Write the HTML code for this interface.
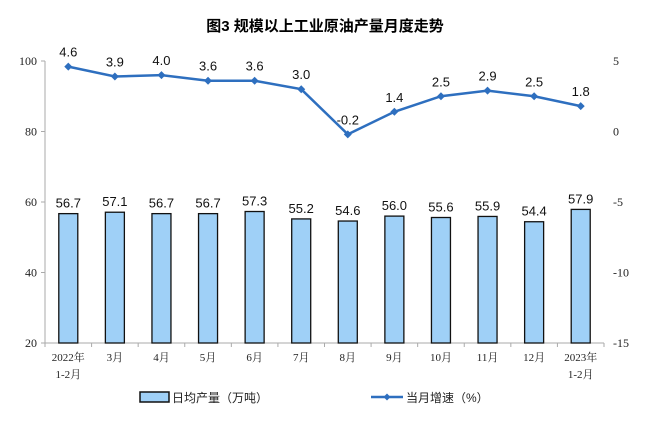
<!DOCTYPE html>
<html><head><meta charset="utf-8"><style>
body{margin:0;background:#fff;width:650px;height:433px;overflow:hidden}
svg text{font-family:"Liberation Sans","Noto Sans CJK SC",sans-serif}
.serif{font-family:"Liberation Serif","Noto Serif CJK SC",serif}
</style></head><body>
<svg id="chart" width="650" height="433" xmlns="http://www.w3.org/2000/svg">
<text x="325" y="31" text-anchor="middle" font-size="15" font-weight="bold" fill="#000">图3  规模以上工业原油产量月度走势</text>
<g id="axes"></g><g id="bars"></g><g id="line"></g>
<g>
<rect x="140" y="392" width="29" height="10" fill="#9fd0f7" stroke="#111" stroke-width="1.5"/>
<text x="172" y="402" font-size="12" fill="#222">日均产量（万吨）</text>
<line x1="371" y1="397" x2="403" y2="397" stroke="#2e6fbf" stroke-width="2.5"/>
<path d="M387 393.5L390.5 397L387 400.5L383.5 397Z" fill="#2e6fbf"/>
<text x="406" y="402" font-size="12" fill="#222">当月增速（%）</text>
</g>
</svg>
<script>
const categories=["2022年|1-2月","3月","4月","5月","6月","7月","8月","9月","10月","11月","12月","2023年|1-2月"];
const production=[56.7,57.1,56.7,56.7,57.3,55.2,54.6,56.0,55.6,55.9,54.4,57.9];
const growth=[4.6,3.9,4.0,3.6,3.6,3.0,-0.2,1.4,2.5,2.9,2.5,1.8];
const leftTicks=[20,40,60,80,100];
const rightTicks=[-15,-10,-5,0,5];
const NS="http://www.w3.org/2000/svg";
const x0=45,x1=604,yTop=61,yBot=343;
const step=(x1-x0)/categories.length;
const xC=i=>x0+step*(i+0.5);
const yL=v=>yBot-(v-20)/80*(yBot-yTop);
const yR=v=>yBot-(v+15)/20*(yBot-yTop);
function mk(tag,attrs,parent,txt){const e=document.createElementNS(NS,tag);for(const k in attrs)e.setAttribute(k,attrs[k]);if(txt!==undefined)e.textContent=txt;parent.appendChild(e);return e;}
const axes=document.getElementById('axes');
let e=mk('line',{x1:x0,y1:yTop,x2:x0,y2:yBot,stroke:'#aaa'},axes);


e=mk('line',{x1:x0,y1:yBot,x2:x1,y2:yBot,stroke:'#aaa'},axes);


leftTicks.forEach(v=>{
  mk('line',{x1:x0-4,y1:yL(v),x2:x0,y2:yL(v),stroke:'#aaa'},axes);
  const t=mk('text',{x:37,y:yL(v)+4,'text-anchor':'end','font-size':12,class:'serif',fill:'#222'},axes,v);
  
  
});
rightTicks.forEach(v=>{
  const t=mk('text',{x:613,y:yR(v)+4,'font-size':12,class:'serif',fill:'#222'},axes,v);
  
  
});
for(let i=0;i<=categories.length;i++){mk('line',{x1:x0+step*i,y1:yBot,x2:x0+step*i,y2:yBot+4,stroke:'#aaa'},axes);}
categories.forEach((c,i)=>{
  c.split('|').forEach((p,j)=>{
    const t=mk('text',{x:xC(i),y:361+j*17,'text-anchor':'middle','font-size':11,class:'serif',fill:'#222'},axes,p);
    
    
  });
});
const bars=document.getElementById('bars');
production.forEach((v,i)=>{
  const r=mk('rect',{x:xC(i)-9.5,y:yL(v),width:19,height:yBot-yL(v),fill:'#9fd0f7',stroke:'#111','stroke-width':1.3},bars);
  
  
  const t=mk('text',{x:xC(i),y:yL(v)-6,'text-anchor':'middle','font-size':13,fill:'#111'},bars,v.toFixed(1));
  
  
});
const line=document.getElementById('line');
const p=mk('polyline',{points:growth.map((v,i)=>xC(i)+','+yR(v)).join(' '),fill:'none',stroke:'#2e6fbf','stroke-width':2.5},line);


growth.forEach((v,i)=>{
  const x=xC(i),y=yR(v);
  const m=mk('path',{d:`M${x} ${y-4}L${x+4} ${y}L${x} ${y+4}L${x-4} ${y}Z`,fill:'#2e6fbf'},line);
  
  
  const t=mk('text',{x:x,y:y-10,'text-anchor':'middle','font-size':13,fill:'#111'},line,v.toFixed(1));
  
  
});
</script>
</body></html>
